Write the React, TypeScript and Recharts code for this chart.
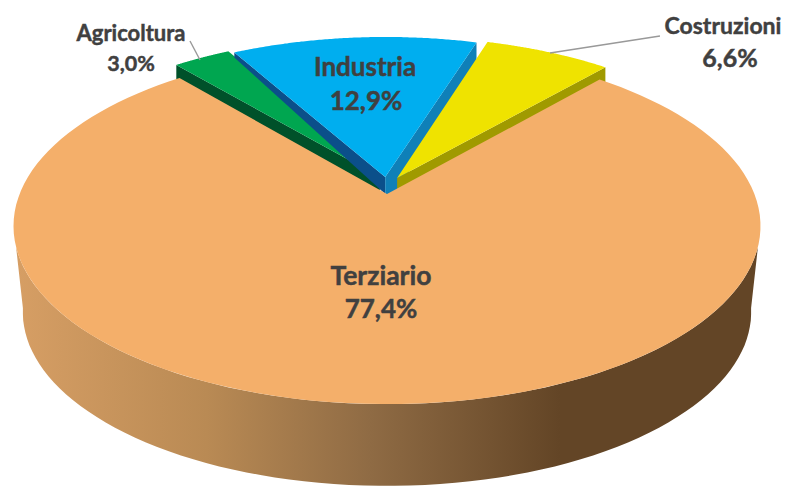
import { PieChart, Pie, Cell } from "recharts";

const categories = ["Agricoltura", "Industria", "Costruzioni", "Terziario"];
const values = [3.0, 12.9, 6.6, 77.4];
const colors = ["#00A650", "#00AEEF", "#EFE300", "#F4AF6A"];

const data = categories.map((name, i) => ({ name, value: values[i] }));

// perspective of the tilted disc
const P = 0.18;
const FLAT = 0.469;

// how each slice sits on the disc: shift, radius, side faces
const sliceLook: Record<string, any> = {
  Agricoltura: { dx: -0.02, dy: 0.1, r: 1, start: { c: "#00512A", a: 30, b: 30 } },
  Industria: {
    dx: -0.005, dy: 0.1, r: 0.99,
    start: { c: "#0B4F8A", a: 17, b: 5 },
    end: { c: "#0F80B8", a: 30, b: 30 },
  },
  Costruzioni: { dx: 0.028, dy: 0.094, r: 1, end: { c: "#A09A00", a: 30, b: 30 } },
  Terziario: { dx: 0, dy: 0, r: 1 },
};

const labelSpots: Record<string, any> = {
  Agricoltura: { x: 131, x2: 131, y: 41, y2: 71, size: 22, size2: 21.5 },
  Industria: { x: 365, x2: 366, y: 76, y2: 110, size: 26, size2: 26 },
  Costruzioni: { x: 723, x2: 730, y: 34, y2: 67, size: 23, size2: 25 },
  Terziario: { x: 381, x2: 381, y: 285, y2: 318, size: 26.5, size2: 26 },
};

const project = (cx: number, cy: number, R: number, u: number, v: number) => {
  const w = 1 + P * v;
  return [cx + (R * u) / w, cy - (R * FLAT * v) / w];
};

const rad = (a: number) => (a * Math.PI) / 180;

const toPath = (pts: number[][]) =>
  "M" + pts.map((p) => `${p[0].toFixed(1)},${p[1].toFixed(1)}`).join("L") + "Z";

const Slice = (props: any) => {
  const { cx, cy, outerRadius, startAngle, endAngle, fill, name } = props;
  const look = sliceLook[name];
  const at = (a: number, k: number) =>
    project(cx, cy, outerRadius, look.dx + k * look.r * Math.cos(rad(a)), look.dy + k * look.r * Math.sin(rad(a)));

  const rim: number[][] = [];
  for (let i = 0; i <= 120; i++) rim.push(at(startAngle + ((endAngle - startAngle) * i) / 120, 1));
  const apex = at(0, 0);

  const face = (side: any, a: number) => {
    if (!side) return null;
    const e = at(a, 1);
    return (
      <path
        d={toPath([apex, e, [e[0], e[1] + side.b], [apex[0], apex[1] + side.a]])}
        fill={side.c}
      />
    );
  };

  let wall = null;
  if (name === "Terziario") {
    const front: number[][] = [];
    const back: number[][] = [];
    for (let a = 197; a <= 343; a += 2) front.push(project(cx, cy, outerRadius, Math.cos(rad(a)), Math.sin(rad(a))));
    for (let a = 189; a <= 351; a += 2) {
      const low = project(cx, cy, outerRadius * 0.975, Math.cos(rad(a)), Math.sin(rad(a)));
      back.unshift([low[0], low[1] + 87]);
    }
    wall = <path d={toPath([...front, ...back])} fill="url(#wallShade)" />;
  }

  return (
    <g>
      {wall}
      {face(look.start, startAngle)}
      {face(look.end, endAngle)}
      <path d={toPath([apex, ...rim])} fill={fill} />
    </g>
  );
};

const SliceLabel = (props: any) => {
  const { name, value } = props;
  const spot = labelSpots[name];
  const txt = {
    fontFamily: "Lato, sans-serif",
    fontWeight: 700,
    fill: "#404040",
    stroke: "#404040",
    strokeWidth: 0.45,
    textAnchor: "middle" as const,
  };
  return (
    <g>
      {name === "Agricoltura" && <path d="M190,41L200,60" stroke="#999" strokeWidth={1.4} fill="none" />}
      {name === "Costruzioni" && <path d="M550,53L660,36" stroke="#999" strokeWidth={1.4} fill="none" />}
      <text x={spot.x} y={spot.y} fontSize={spot.size} {...txt}>{name}</text>
      <text x={spot.x2} y={spot.y2} fontSize={spot.size2} {...txt}>{value.toFixed(1).replace(".", ",")}%</text>
    </g>
  );
};

export default function App() {
  return (
    <div style={{ position: "absolute", left: 0, top: 0, width: 799, height: 487, background: "#fff" }}>
      <PieChart width={799} height={487} margin={{ top: 0, right: 0, bottom: 0, left: 0 }}>
        <defs>
          <linearGradient id="wallShade" gradientUnits="userSpaceOnUse" x1="17" y1="0" x2="560" y2="0">
            <stop offset="0%" stopColor="#D69E64" />
            <stop offset="35%" stopColor="#B98A54" />
            <stop offset="65%" stopColor="#8F6B44" />
            <stop offset="100%" stopColor="#634526" />
          </linearGradient>
        </defs>
        <Pie
          data={data}
          dataKey="value"
          nameKey="name"
          cx={387}
          cy={194}
          innerRadius={0}
          outerRadius={367.4}
          startAngle={130}
          endAngle={-230}
          stroke="none"
          shape={Slice}
          label={SliceLabel}
          labelLine={false}
          isAnimationActive={false}
        >
          {data.map((d, i) => (
            <Cell key={d.name} fill={colors[i]} />
          ))}
        </Pie>
      </PieChart>
    </div>
  );
}
